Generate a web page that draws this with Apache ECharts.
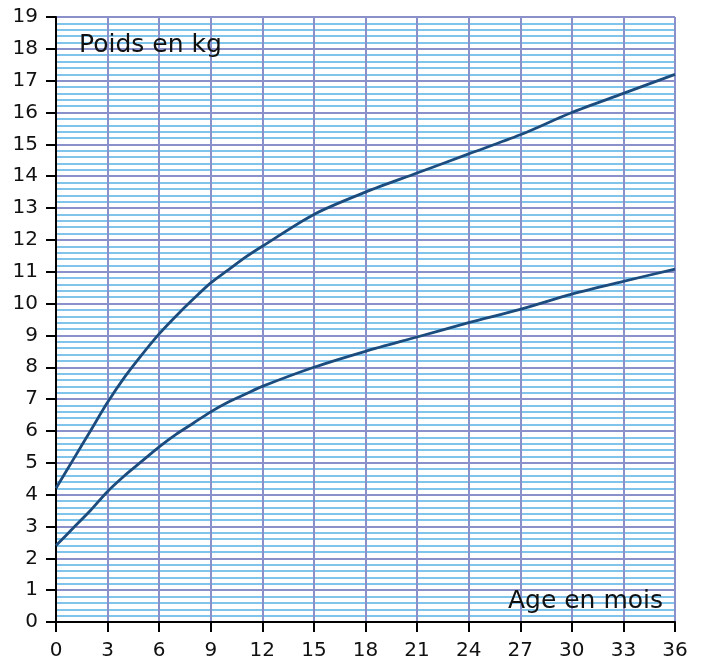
<!DOCTYPE html>
<html>
<head>
<meta charset="utf-8">
<script src="https://cdn.jsdelivr.net/npm/echarts@6/dist/echarts.min.js"></script>
<style>
  html, body { margin: 0; padding: 0; background: #ffffff; }
  #chart { width: 703px; height: 666px; }
</style>
</head>
<body>
<div id="chart"></div>
<script>
// Age in months and weight in kg for the two growth curves
const upperAges = [0, 1, 2, 3, 4, 5, 6, 7, 8, 9, 10, 11, 12, 15, 18, 21, 24, 27, 30, 33, 36];
const upperKg   = [4.2, 5.1, 6.0, 6.9, 7.7, 8.4, 9.05, 9.62, 10.15, 10.65, 11.05, 11.45, 11.8, 12.8, 13.5, 14.1, 14.7, 15.3, 16.0, 16.6, 17.2];
const lowerAges = [0, 1, 2, 3, 4, 5, 6, 7, 8, 9, 10, 11, 12, 15, 18, 21, 24, 27, 30, 33, 36];
const lowerKg   = [2.4, 2.95, 3.5, 4.1, 4.6, 5.05, 5.5, 5.9, 6.25, 6.6, 6.9, 7.15, 7.4, 8.0, 8.5, 8.95, 9.4, 9.82, 10.3, 10.7, 11.08];

const xTitle = 'Age en mois';
const yTitle = 'Poids en kg';

const MAJOR = '#8a90ca';
const MINOR = '#80c4ec';
const CURVE = '#1c4c7e';

const pairs = (xs, ys) => xs.map((x, i) => [x, ys[i]]);

const tickLabel = { color: '#111', fontFamily: 'DejaVu Sans', fontSize: 20 };

const chart = echarts.init(document.getElementById('chart'), null, { renderer: 'canvas' });
chart.setOption({
  animation: false,
  backgroundColor: '#ffffff',
  grid: { left: 56, right: 28, top: 17, bottom: 44, containLabel: false },
  xAxis: {
    type: 'value', min: 0, max: 36, interval: 3,
    axisLine: { show: true, onZero: false, lineStyle: { color: '#000', width: 2 } },
    axisTick: { show: true, length: 10, lineStyle: { color: '#000', width: 2 } },
    axisLabel: Object.assign({ margin: 19 }, tickLabel),
    splitLine: { show: true, lineStyle: { color: MAJOR, width: 2 } }
  },
  yAxis: {
    type: 'value', min: 0, max: 19, interval: 1,
    axisLine: { show: true, onZero: false, lineStyle: { color: '#000', width: 2 } },
    axisTick: { show: true, length: 10, lineStyle: { color: '#000', width: 2 } },
    axisLabel: Object.assign({ margin: 18 }, tickLabel),
    splitLine: { show: true, lineStyle: { color: MAJOR, width: 2 } },
    minorTick: { show: false, splitNumber: 5 },
    minorSplitLine: { show: true, lineStyle: { color: MINOR, width: 2 } }
  },
  series: [
    {
      type: 'line', data: pairs(upperAges, upperKg), showSymbol: false,
      smooth: 0.3, lineStyle: { color: CURVE, width: 2.8 }, z: 5
    },
    {
      type: 'line', data: pairs(lowerAges, lowerKg), showSymbol: false,
      smooth: 0.3, lineStyle: { color: CURVE, width: 2.8 }, z: 5
    }
  ],
  graphic: [
    {
      type: 'text', left: 79, top: 33, z: 10,
      style: { text: yTitle, font: '25px "DejaVu Sans"', fill: '#111' }
    },
    {
      type: 'text', right: 40, top: 589, z: 10,
      style: { text: xTitle, font: '25px "DejaVu Sans"', fill: '#111' }
    }
  ]
});
</script>
</body>
</html>
